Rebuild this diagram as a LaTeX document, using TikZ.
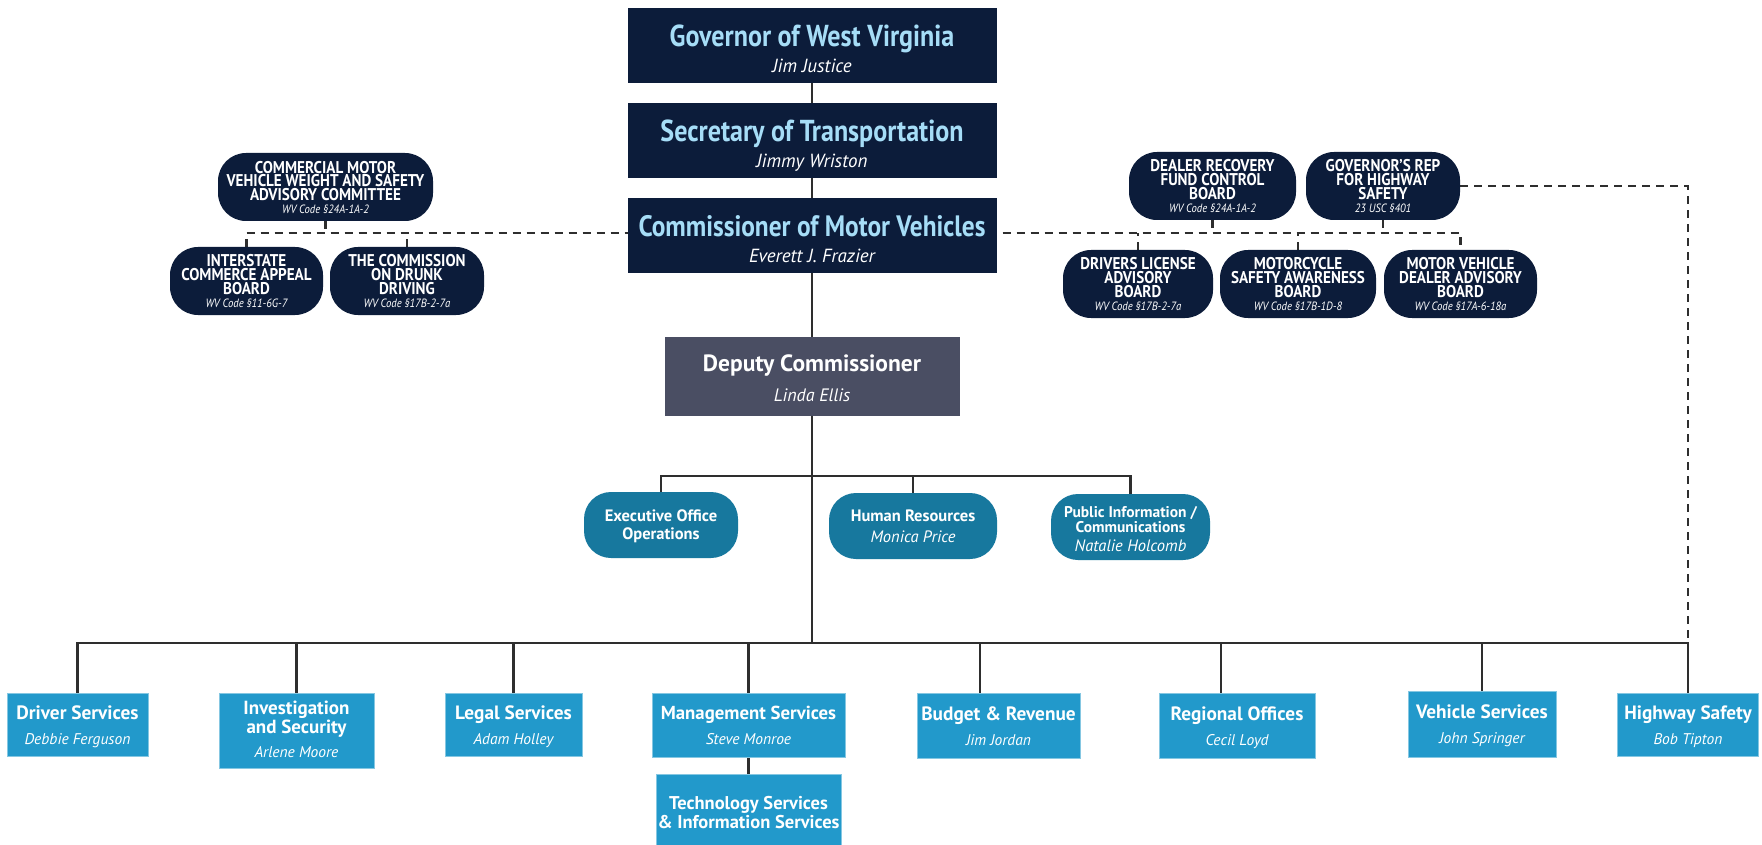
\documentclass[tikz,border=0pt]{standalone}
\usepackage{fontspec}
\setmainfont{PT Sans}
\newfontfamily\condf{PT Sans}[FakeStretch=0.86]
\newfontfamily\advf{PT Sans}[FakeStretch=0.89]
\definecolor{navy}{HTML}{0C1C3A}
\definecolor{tlblue}{HTML}{A6DDF7}
\definecolor{depgray}{HTML}{4A4E63}
\definecolor{tealb}{HTML}{17789E}
\definecolor{lblue}{HTML}{2299CB}
\definecolor{lineg}{HTML}{2E2E2E}
\pgfdeclarelayer{back}
\pgfdeclarelayer{bg}
\pgfsetlayers{back,bg,main}
\newcommand\nmtop[1]{{\fontsize{19}{20}\selectfont\itshape #1}}
\newcommand\nmmid[1]{{\fontsize{16.5}{18}\selectfont\mdseries\itshape #1}}
\newcommand\nmbot[1]{{\fontsize{15.5}{18}\selectfont\mdseries\itshape #1}}
\newcommand\nmadv[1]{{\fontsize{12}{12}\selectfont\mdseries\itshape #1}}
\tikzset{
 conn/.style={draw=lineg, line width=2.6pt},
 dconn/.style={draw=lineg, line width=2.6pt, dash pattern=on 8pt off 6pt},
 txt/.style={inner sep=0pt, align=center, anchor=base, text=white},
 topbox/.style={fill=navy, minimum width=369pt, minimum height=75pt, inner sep=0pt},
 toptxt/.style={txt, font=\fontsize{19}{26}\selectfont},
 depbox/.style={fill=depgray, minimum width=295pt, minimum height=79pt, inner sep=0pt},
 deptxt/.style={txt, font=\fontsize{18}{30}\selectfont},
 advb/.style={fill=navy, rounded corners=28pt, minimum height=68pt, inner sep=0pt},
 advtxt/.style={txt, font=\advf\fontsize{17}{13.8}\selectfont\bfseries},
 midb/.style={fill=tealb, rounded corners=27pt, minimum height=66pt, inner sep=0pt},
 midtxt/.style={txt, font=\fontsize{16.5}{18.5}\selectfont\bfseries},
 botb/.style={fill=lblue, draw=lblue!55!white, line width=1pt, inner sep=0pt},
 bottxt/.style={txt, font=\fontsize{19.3}{25}\selectfont\bfseries},
}
\begin{document}
\lineskiplimit=-1000pt
\begin{tikzpicture}[x=1pt,y=-1pt]
\begin{pgfonlayer}{back}
\fill[white] (0,0) rectangle (1762,845);
\end{pgfonlayer}
\useasboundingbox (0,0) rectangle (1762,845);
% top chain
\node[topbox] (gov) at (812,45.5) {};
\node[toptxt] (govt) at (812,72.5) {{\condf\fontsize{30.3}{31}\selectfont\bfseries\color{tlblue}Governor of West Virginia}\\\nmtop{Jim Justice}};
\node[topbox] (sec) at (812,140.5) {};
\node[toptxt] (sect) at (812,167.5) {{\condf\fontsize{30.3}{31}\selectfont\bfseries\color{tlblue}Secretary of Transportation}\\\nmtop{Jimmy Wriston}};
\node[topbox] (com) at (812,235.5) {};
\node[toptxt] (comt) at (812,262.5) {{\condf\fontsize{29.5}{31}\selectfont\bfseries\color{tlblue}Commissioner of Motor Vehicles}\\\nmtop{Everett J. Frazier}};
\node[depbox] (dep) at (812,376.5) {};
\node[deptxt] (dept) at (812,401) {{\fontsize{23.5}{24}\selectfont\bfseries Deputy Commissioner}\\\nmtop{\fontsize{18}{20}\selectfont Linda Ellis}};
% advisory boards
\node[advb, minimum width=215pt] (cmv) at (325.5,187) {};
\node[advtxt] (cmvt) at (325.5,214) {COMMERCIAL MOTOR\\VEHICLE WEIGHT AND SAFETY\\ADVISORY COMMITTEE\\[-0.5pt]\nmadv{WV Code §24A-1A-2}};
\node[advb, minimum width=153pt] (ica) at (246.5,281) {};
\node[advtxt] (icat) at (246.5,307.5) {INTERSTATE\\COMMERCE APPEAL\\BOARD\\[-0.5pt]\nmadv{WV Code §11-6G-7}};
\node[advb, minimum width=154pt] (cdd) at (407,281) {};
\node[advtxt] (cddt) at (407,307.5) {THE COMMISSION\\ON DRUNK\\DRIVING\\[-0.5pt]\nmadv{WV Code §17B-2-7a}};
\node[advb, minimum width=167pt] (drf) at (1212.5,186) {};
\node[advtxt] (drft) at (1212.5,212.5) {DEALER RECOVERY\\FUND CONTROL\\BOARD\\[-0.5pt]\nmadv{WV Code §24A-1A-2}};
\node[advb, minimum width=154pt] (grh) at (1383,186) {};
\node[advtxt] (grht) at (1383,212.5) {GOVERNOR’S REP\\FOR HIGHWAY\\SAFETY\\[-0.5pt]\nmadv{23 USC §401}};
\node[advb, minimum width=150pt] (dla) at (1138,284) {};
\node[advtxt] (dlat) at (1138,310.5) {DRIVERS LICENSE\\ADVISORY\\BOARD\\[-0.5pt]\nmadv{WV Code §17B-2-7a}};
\node[advb, minimum width=156pt] (msa) at (1298,284) {};
\node[advtxt] (msat) at (1298,310.5) {MOTORCYCLE\\SAFETY AWARENESS\\BOARD\\[-0.5pt]\nmadv{WV Code §17B-1D-8}};
\node[advb, minimum width=153pt] (mvd) at (1460.5,284) {};
\node[advtxt] (mvdt) at (1460.5,310.5) {MOTOR VEHICLE\\DEALER ADVISORY\\BOARD\\[-0.5pt]\nmadv{WV Code §17A-6-18a}};
% tier 2
\node[midb, minimum width=154pt] (exo) at (661,525) {};
\node[midtxt] (exot) at (661,539.5) {Executive Office\\Operations};
\node[midb, minimum width=168pt] (hr) at (913,526) {};
\node[midtxt] (hrt) at (913,542) {Human Resources\\[2.5pt]\nmmid{Monica Price}};
\node[midb, minimum width=159pt] (pic) at (1130.5,527) {};
\node[midtxt, font=\fontsize{15.5}{15}\selectfont\bfseries] (pict) at (1130.5,551) {Public Information /\\Communications\\[4pt]\nmmid{Natalie Holcomb}};
% bottom tier
\node[botb, minimum width=141pt, minimum height=63pt] (drv) at (77.5,724.5) {};
\node[bottxt] (drvt) at (77.5,744.5) {Driver Services\\\nmbot{Debbie Ferguson}};
\node[botb, minimum width=155pt, minimum height=75pt] (inv) at (296.5,730.5) {};
\node[bottxt, font=\fontsize{19}{19}\selectfont\bfseries] (invt) at (296.5,757.5) {Investigation\\and Security\\[5pt]\nmbot{Arlene Moore}};
\node[botb, minimum width=137pt, minimum height=63pt] (leg) at (513.5,724.5) {};
\node[bottxt] (legt) at (513.5,744.5) {Legal Services\\\nmbot{Adam Holley}};
\node[botb, minimum width=193pt, minimum height=64pt] (mgt) at (748.5,725) {};
\node[bottxt, font=\fontsize{18.8}{25}\selectfont\bfseries] (mgtt) at (748.5,744.5) {Management Services\\\nmbot{Steve Monroe}};
\node[botb, minimum width=185pt, minimum height=80pt] (tec) at (748.5,814) {};
\node[bottxt, font=\fontsize{18.5}{18.5}\selectfont\bfseries] (tect) at (748.5,828) {Technology Services\\\& Information Services};
\node[botb, minimum width=163pt, minimum height=65pt] (bud) at (998.5,725.5) {};
\node[bottxt] (budt) at (998.5,745) {Budget \& Revenue\\\nmbot{Jim Jordan}};
\node[botb, minimum width=156pt, minimum height=65pt] (reg) at (1237,725.5) {};
\node[bottxt] (regt) at (1237,745) {Regional Offices\\\nmbot{Cecil Loyd}};
\node[botb, minimum width=148pt, minimum height=66pt] (veh) at (1482,724) {};
\node[bottxt] (veht) at (1482,743) {Vehicle Services\\\nmbot{John Springer}};
\node[botb, minimum width=141pt, minimum height=63pt] (hws) at (1688,724.5) {};
\node[bottxt] (hwst) at (1688,744.5) {Highway Safety\\\nmbot{Bob Tipton}};
% helper coordinates
\coordinate (dashy) at (812,233);
\coordinate (t2y) at (812,476);
\coordinate (busy) at (812,643);
\coordinate (budtick) at (980,693);
\coordinate (regtick) at (1221,693);
\begin{pgfonlayer}{bg}
\draw[conn] (gov.south) -- (sec.north);
\draw[conn] (sec.south) -- (com.north);
\draw[conn] (com.south) -- (dep.north);
\draw[conn] (dep.south) -- (busy);
\draw[conn] (exo.north) -- (exo.north |- t2y) -- (pic.north |- t2y) -- (pic.north);
\draw[conn] (hr.north) -- (hr.north |- t2y);
\draw[conn] (drv.north) -- (drv.north |- busy) -- (hws.north |- busy) -- (hws.north);
\draw[conn] (inv.north) -- (inv.north |- busy);
\draw[conn] (leg.north) -- (leg.north |- busy);
\draw[conn] (mgt.north) -- (mgt.north |- busy);
\draw[conn] (mgt.south) -- (tec.north);
\draw[conn] (budtick) -- (budtick |- busy);
\draw[conn] (regtick) -- (regtick |- busy);
\draw[conn] (veh.north) -- (veh.north |- busy);
\draw[dconn] (ica.north) -- (ica.north |- dashy) -- (mvd.north |- dashy) -- (mvd.north);
\draw[dconn] (cdd.north) -- (cdd.north |- dashy);
\draw[dconn] (cmv.south) -- (cmv.south |- dashy);
\draw[dconn] (drf.south) -- (drf.south |- dashy);
\draw[dconn] (grh.south) -- (grh.south |- dashy);
\draw[dconn] (dla.north) -- (dla.north |- dashy);
\draw[dconn] (msa.north) -- (msa.north |- dashy);
\draw[dconn] (grh.east) -- (grh.east -| hws.north) -- (hws.north |- busy);
\end{pgfonlayer}
\end{tikzpicture}
\end{document}
